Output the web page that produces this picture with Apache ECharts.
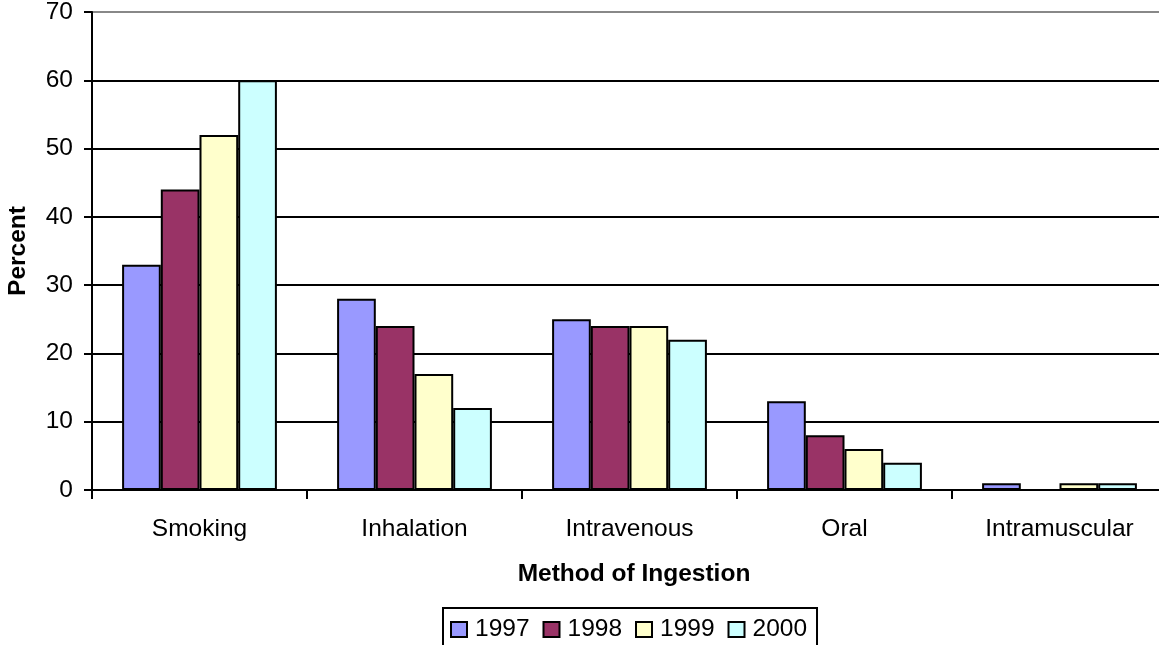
<!DOCTYPE html>
<html><head><meta charset="utf-8">
<script src="https://cdn.jsdelivr.net/npm/echarts@6/dist/echarts.min.js"></script>
<style>html,body{margin:0;padding:0;background:#fff}#c{width:1159px;height:645px}</style>
</head><body><div id="c"></div>
<script>
const categories = ['Smoking', 'Inhalation', 'Intravenous', 'Oral', 'Intramuscular'];
const years = ['1997', '1998', '1999', '2000'];
const v1997 = [33, 28, 25, 13, 1];
const v1998 = [44, 24, 24, 8, 0];
const v1999 = [52, 17, 24, 6, 1];
const v2000 = [60, 12, 22, 4, 1];
const colors = ['#9999FF', '#993366', '#FFFFCC', '#CCFFFF'];
const seriesValues = [v1997, v1998, v1999, v2000];

const font = 'Liberation Sans, Arial, sans-serif';
const chart = echarts.init(document.getElementById('c'));
chart.setOption({
  animation: false,
  textStyle: { fontFamily: font, color: '#000' },
  grid: { left: 92, width: 1075, top: 12, height: 478, containLabel: false, outerBoundsMode: 'none' },
  legend: {
    data: years,
    left: 443, top: 608,
    itemWidth: 16, itemHeight: 15, itemGap: 13,
    icon: 'rect',
    itemStyle: { borderColor: '#000', borderWidth: 2 },
    borderColor: '#000', borderWidth: 2, borderRadius: 0,
    padding: [9, 10, 9, 7],
    textStyle: { fontSize: 24.5, fontFamily: font, color: '#000', padding: [0, 0, 0, 3] }
  },
  xAxis: {
    type: 'category', data: categories,
    name: 'Method of Ingestion', nameLocation: 'middle', nameGap: 84,
    nameTextStyle: { fontSize: 24.5, fontWeight: 'bold', fontFamily: font, color: '#000', verticalAlign: 'middle', padding: [0, 0, 0, 9] },
    axisLine: { lineStyle: { color: '#000', width: 2 } },
    axisTick: { show: true, length: 9, lineStyle: { color: '#000', width: 2 } },
    axisLabel: { fontSize: 24.5, margin: 27, color: '#000', fontFamily: font }
  },
  yAxis: {
    type: 'value', min: 0, max: 70, interval: 10,
    name: 'Percent', nameLocation: 'middle', nameGap: 74, nameRotate: 90,
    nameTextStyle: { fontSize: 24.5, fontWeight: 'bold', fontFamily: font, color: '#000', verticalAlign: 'middle' },
    axisLine: { show: true, lineStyle: { color: '#000', width: 2 } },
    axisTick: { show: true, length: 8, lineStyle: { color: '#000', width: 2 } },
    axisLabel: { fontSize: 24.5, margin: 19, color: '#000', fontFamily: font },
    splitLine: { show: true, lineStyle: { color: ['#000', '#000', '#000', '#000', '#000', '#000', '#000', '#888'], width: 2 } }
  },
  series: years.map((y, i) => ({
    name: y, type: 'bar', data: seriesValues[i],
    barGap: '0%', barCategoryGap: '28%',
    itemStyle: { color: colors[i], borderColor: '#000', borderWidth: 2 }
  }))
});
</script></body></html>
